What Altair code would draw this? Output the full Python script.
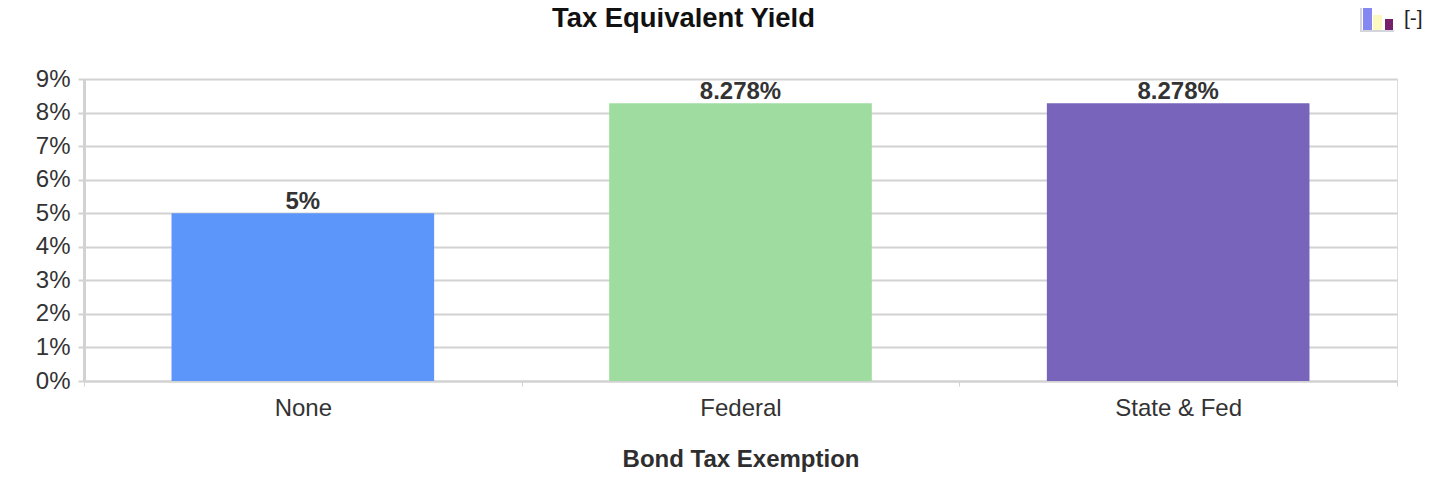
import altair as alt
import pandas as pd

categories = ["None", "Federal", "State & Fed"]
values = [0.05, 0.08278, 0.08278]
labels = ["5%", "8.278%", "8.278%"]
colors = ["#5c96fb", "#9edc9f", "#7964bc"]
y_ticks = [0, 0.01, 0.02, 0.03, 0.04, 0.05, 0.06, 0.07, 0.08, 0.09]
icon_bars = [
    (1360, 1362, 5, 32, "#d4d4dc"),
    (1360, 1394, 30, 32, "#d4d4dc"),
    (1363, 1372, 6, 30, "#8488f0"),
    (1373, 1382, 15, 30, "#fbf9c0"),
    (1385, 1393, 19, 30, "#74206a"),
]

df = pd.DataFrame({"cat": categories, "val": values, "label": labels, "color": colors})
FONT = "Liberation Sans"
GRID = "#d2d2d2"

x = alt.X(
    "cat:N", sort=categories,
    scale=alt.Scale(padding=0),
    axis=alt.Axis(
        title="Bond Tax Exemption", titleFontSize=24, titleFontWeight="bold", titleColor="#2e2e2e",
        titleFont=FONT, titlePadding=27, labelFont=FONT, labelFontSize=24, labelColor="#333333",
        labelAngle=0, labelPadding=10, domainColor=GRID, domainWidth=2, tickColor=GRID, tickSize=5,
        tickBand="extent", labelFlush=False,
    ),
)
y = alt.Y(
    "val:Q", scale=alt.Scale(domain=[0, 0.09], nice=False),
    axis=alt.Axis(
        title=None, values=y_ticks, format=".0%", labelFont=FONT,
        labelFontSize=24, labelColor="#333333", labelPadding=8, labelOverlap=False,
        domainColor=GRID, domainWidth=3, tickColor=GRID, tickSize=6, tickWidth=2,
        gridColor=GRID, gridWidth=2,
    ),
)

bars = alt.Chart(df).mark_bar(width=alt.RelativeBandSize(band=0.6)).encode(
    x=x, y=y, color=alt.Color("color:N", scale=None, legend=None)
)
text = alt.Chart(df).mark_text(
    font=FONT, fontSize=24, fontWeight="bold", color="#333333", baseline="bottom", dy=1
).encode(x=x, y=y, text="label:N")

icons = [
    alt.Chart(pd.DataFrame({"a": [0]})).mark_rect(color=c).encode(
        x=alt.value(a - 84), x2=alt.value(b - 84),
        y=alt.value(t - 79), y2=alt.value(u - 79),
    )
    for a, b, t, u, c in icon_bars
]
toggle = alt.Chart(pd.DataFrame({"a": [0]})).mark_text(
    text="[-]", font=FONT, fontSize=21, color="#222222", align="left", baseline="middle"
).encode(x=alt.value(1320), y=alt.value(-60))

chart = alt.layer(bars, text, *icons, toggle).properties(
    width=1313, height=302,
    title=alt.TitleParams(
        "Tax Equivalent Yield", font=FONT, fontSize=27.4, fontWeight="bold", color="#111111",
        anchor="middle", offset=-27, dx=-57,
    ),
    autosize=alt.AutoSizeParams(type="none"),
    padding={"left": 76, "top": 71, "right": 27, "bottom": 96},
).configure_view(stroke=GRID, strokeWidth=2).configure(background="white")

chart.save("out.html", embed_options={"renderer": "svg", "actions": False})
